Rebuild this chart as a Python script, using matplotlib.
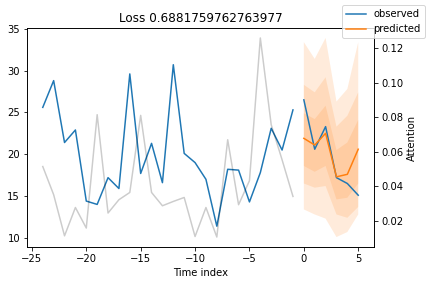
import numpy as np
import matplotlib
matplotlib.use("Agg")
from matplotlib import pyplot as plt

# encoder (history) and decoder (forecast) time index
x_obs = np.arange(-24, 0)
x_pred = np.arange(0, 6)

# observed target
y_obs = [25.6, 28.8, 21.4, 22.9, 14.4, 14.0, 17.2, 15.9, 29.6, 17.7, 21.3, 16.6,
         30.7, 20.1, 19.0, 17.0, 11.4, 18.2, 18.1, 14.3, 17.8, 23.1, 20.5, 25.3]
y_future = [26.5, 20.6, 23.3, 17.2, 16.5, 15.1]

# predicted median and quantiles (0.02, 0.1, 0.25, 0.5, 0.75, 0.9, 0.98)
y_hat = [21.9, 21.1, 22.5, 17.3, 17.6, 20.6]
q02 = [13.4, 12.8, 12.3, 10.1, 10.7, 12.8]
q10 = [16.5, 16.0, 16.2, 12.8, 12.4, 13.7]
q25 = [18.6, 17.9, 18.6, 14.6, 14.8, 16.5]
q75 = [24.9, 24.2, 25.8, 20.5, 21.4, 24.1]
q90 = [28.3, 27.4, 29.2, 23.3, 24.6, 27.4]
q98 = [33.4, 31.4, 33.9, 26.3, 27.8, 33.4]

# attention weights over encoder steps
attention = [0.0514, 0.0351, 0.0113, 0.0277, 0.0158, 0.0814, 0.0245, 0.0322,
             0.0364, 0.0810, 0.0364, 0.0287, 0.0312, 0.0335, 0.0109, 0.0277,
             0.0106, 0.0669, 0.0293, 0.0432, 0.1258, 0.0756, 0.0553, 0.0341]

loss = 0.6881759762763977

fig = plt.figure(figsize=(430 / 72, 286 / 72), dpi=72)
ax = fig.add_axes([27 / 430, 1 - 247 / 286, 347 / 430, 219 / 286])

obs_color = "C0"
pred_color = "C1"
ax.plot(x_obs, y_obs, "-", label="observed", c=obs_color)
ax.plot(x_pred, y_future, "-", c=obs_color)
ax.plot(x_pred, y_hat, label="predicted", c=pred_color)
quantiles = [q02, q10, q25, y_hat, q75, q90, q98]
for i in range(len(quantiles) // 2):
    ax.fill_between(x_pred, quantiles[i], quantiles[-i - 1], alpha=0.15, fc=pred_color)

ax.set_title(f"Loss {loss}")
ax.set_xlabel("Time index")
fig.legend()

ax2 = ax.twinx()
ax2.set_ylabel("Attention")
ax2.plot(x_obs, attention, alpha=0.2, color="k")

fig.savefig("out.png", dpi=72)
